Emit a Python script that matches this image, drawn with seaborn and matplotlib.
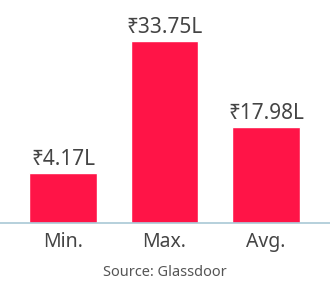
import matplotlib
matplotlib.use("Agg")
import matplotlib.pyplot as plt
import seaborn as sns
import pandas as pd

categories = ["Min.", "Max.", "Avg."]
label_values = [4.17, 33.75, 17.98]
bar_heights = [9.2, 33.75, 17.7]
value_labels = ["₹4.17L", "₹33.75L", "₹17.98L"]
source_text = "Source: Glassdoor"

sns.set_theme(style="white")
plt.rcParams['font.family'] = ['Noto Sans', 'DejaVu Sans']

W, H = 330, 291
fig = plt.figure(figsize=(W / 100, H / 100), dpi=100)
base_px = 222.5
ax = fig.add_axes([0, (H - base_px) / H, 1, base_px / H])

df = pd.DataFrame({"cat": categories, "h": bar_heights})
sns.barplot(data=df, x="cat", y="h", color="#FF1447", saturation=1, width=0.665, ax=ax)

ax.set_xlim(-0.62, 2.63)
ax.set_ylim(0, base_px / (181.5 / 33.75))

for i, (h, lab) in enumerate(zip(bar_heights, value_labels)):
    ax.annotate(lab, (i, h), xytext=(0, 6), textcoords="offset points",
                ha="center", va="baseline", fontsize=15, color="#444444")

for s in ["top", "left", "right"]:
    ax.spines[s].set_visible(False)
ax.spines["bottom"].set_color("#A9C8D6")
ax.spines["bottom"].set_linewidth(1.2)
ax.set_yticks([])
ax.set_xlabel("")
ax.set_ylabel("")
ax.tick_params(axis="x", length=0, pad=7, labelsize=14, labelcolor="#444444")

fig.text(0.5, 1 - 273 / H, source_text, ha="center", va="center", fontsize=10.5, color="#555555")

fig.savefig("out.png", dpi=100)
